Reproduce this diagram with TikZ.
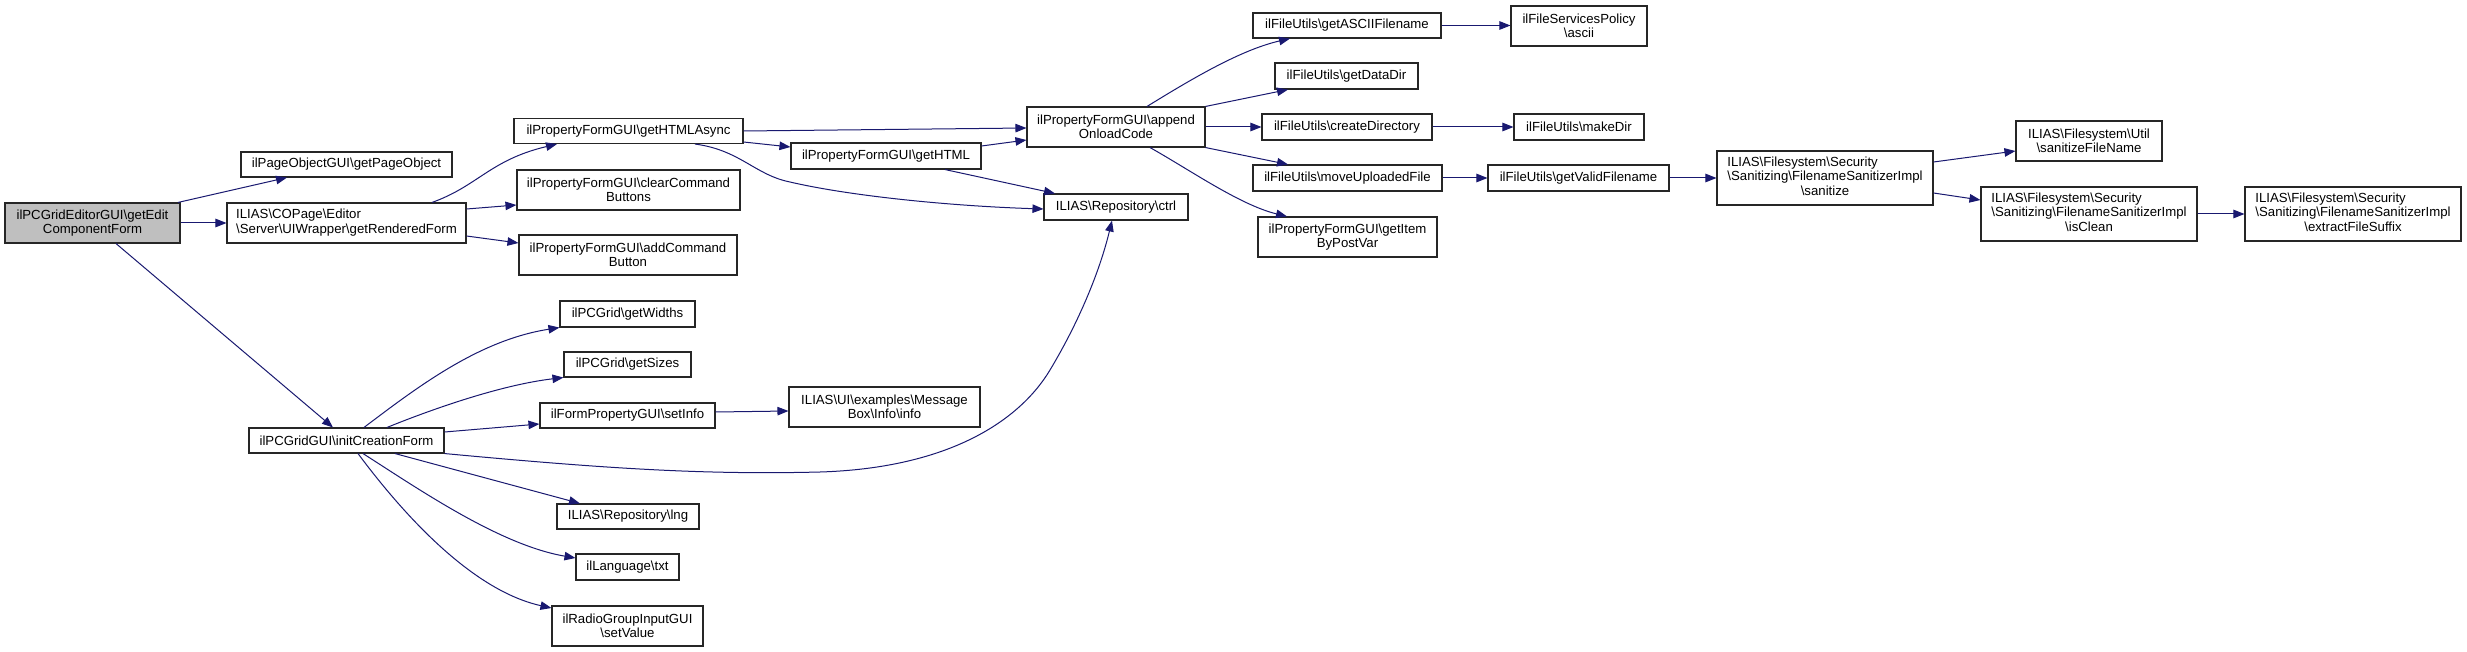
\documentclass[tikz,border=0pt]{standalone}
\usepackage{fontspec}
\setmainfont{Liberation Sans}
\usetikzlibrary{arrows.meta}
\definecolor{edgeblue}{HTML}{191970}
\definecolor{rootgray}{HTML}{BFBFBF}
\newcommand\BSL{\textbackslash}
\tikzset{
  box/.style={draw=black!85, line width=1.1pt, fill=white, inner sep=0pt, align=center,
    font=\fontsize{13.2}{14.3}\selectfont},
  rootbox/.style={box, fill=rootgray},
  call/.style={draw=edgeblue, line width=1pt, -{Triangle[length=11pt,width=8.5pt]}},
}
\begin{document}
\begin{tikzpicture}[x=1pt,y=-1pt]
\fill[white] (0,0) rectangle (2467,652);
\useasboundingbox (0,0) rectangle (2467,652);

% column 1
\node[rootbox, minimum width=175pt, minimum height=40pt] (root) at (92.5,223) {ilPCGridEditorGUI\BSL getEdit\\ComponentForm};
% column 2
\node[box, minimum width=211pt, minimum height=25pt] (pageobj) at (346.5,164.5) {ilPageObjectGUI\BSL getPageObject};
\node[box, minimum width=239pt, minimum height=40pt] (rendered) at (346.5,223) {\begin{tabular}{@{}l@{}}ILIAS\BSL COPage\BSL Editor\\\BSL Server\BSL UIWrapper\BSL getRenderedForm\end{tabular}};
\node[box, minimum width=195pt, minimum height=25pt] (init) at (346.5,440.5) {ilPCGridGUI\BSL initCreationForm};
% column 3
\node[box, minimum width=229pt, minimum height=25pt] (async) at (628.5,131) {ilPropertyFormGUI\BSL getHTMLAsync};
\node[box, minimum width=223pt, minimum height=40pt] (clear) at (628.5,190) {ilPropertyFormGUI\BSL clearCommand\\Buttons};
\node[box, minimum width=218pt, minimum height=40pt] (addcmd) at (628,255) {ilPropertyFormGUI\BSL addCommand\\Button};
\node[box, minimum width=135pt, minimum height=26pt] (widths) at (627.5,314) {ilPCGrid\BSL getWidths};
\node[box, minimum width=127pt, minimum height=25pt] (sizes) at (627.5,364.5) {ilPCGrid\BSL getSizes};
\node[box, minimum width=175pt, minimum height=25pt] (setinfo) at (627.5,415.5) {ilFormPropertyGUI\BSL setInfo};
\node[box, minimum width=142pt, minimum height=25pt] (lng) at (628,516.5) {ILIAS\BSL Repository\BSL lng};
\node[box, minimum width=103pt, minimum height=26pt] (txt) at (627.5,567) {ilLanguage\BSL txt};
\node[box, minimum width=151pt, minimum height=40pt] (setvalue) at (627.5,626) {ilRadioGroupInputGUI\\\BSL setValue};
% column 4
\node[box, minimum width=190pt, minimum height=26pt] (gethtml) at (886,156) {ilPropertyFormGUI\BSL getHTML};
\node[box, minimum width=191pt, minimum height=40pt] (msgbox) at (884.5,407) {ILIAS\BSL UI\BSL examples\BSL Message\\Box\BSL Info\BSL info};
% column 5
\node[box, minimum width=178pt, minimum height=40pt] (append) at (1116,127) {ilPropertyFormGUI\BSL append\\OnloadCode};
\node[box, minimum width=144pt, minimum height=26pt] (ctrl) at (1116,207) {ILIAS\BSL Repository\BSL ctrl};
% column 6
\node[box, minimum width=188pt, minimum height=25pt] (ascfn) at (1347,25.5) {ilFileUtils\BSL getASCIIFilename};
\node[box, minimum width=143pt, minimum height=26pt] (datadir) at (1346.5,76) {ilFileUtils\BSL getDataDir};
\node[box, minimum width=170pt, minimum height=26pt] (createdir) at (1347,127) {ilFileUtils\BSL createDirectory};
\node[box, minimum width=189pt, minimum height=26pt] (moveup) at (1347.5,178) {ilFileUtils\BSL moveUploadedFile};
\node[box, minimum width=179pt, minimum height=40pt] (itembpv) at (1347.5,237) {ilPropertyFormGUI\BSL getItem\\ByPostVar};
% column 7
\node[box, minimum width=136pt, minimum height=40pt] (ascii) at (1579,26) {ilFileServicesPolicy\\\BSL ascii};
\node[box, minimum width=130pt, minimum height=26pt] (makedir) at (1579,127) {ilFileUtils\BSL makeDir};
\node[box, minimum width=181pt, minimum height=26pt] (validfn) at (1578.5,178) {ilFileUtils\BSL getValidFilename};
% column 8
\node[box, minimum width=216pt, minimum height=54pt] (sanitize) at (1825,178) {\begin{tabular}{@{}l@{}}ILIAS\BSL Filesystem\BSL Security\\\BSL Sanitizing\BSL FilenameSanitizerImpl\\\multicolumn{1}{@{}c@{}}{\BSL sanitize}\end{tabular}};
% column 9
\node[box, minimum width=146pt, minimum height=40pt] (sanfn) at (2089,141) {ILIAS\BSL Filesystem\BSL Util\\\BSL sanitizeFileName};
\node[box, minimum width=216pt, minimum height=54pt] (isclean) at (2089,214) {\begin{tabular}{@{}l@{}}ILIAS\BSL Filesystem\BSL Security\\\BSL Sanitizing\BSL FilenameSanitizerImpl\\\multicolumn{1}{@{}c@{}}{\BSL isClean}\end{tabular}};
% column 10
\node[box, minimum width=216pt, minimum height=54pt] (suffix) at (2353,214) {\begin{tabular}{@{}l@{}}ILIAS\BSL Filesystem\BSL Security\\\BSL Sanitizing\BSL FilenameSanitizerImpl\\\multicolumn{1}{@{}c@{}}{\BSL extractFileSuffix}\end{tabular}};

% edges from root
\draw[call] ([xshift=85.5pt]root.north) -- ([xshift=-59.5pt]pageobj.south);
\draw[call] (root.east) -- (rendered.west);
\draw[call] ([xshift=23.5pt]root.south) -- ([xshift=-13.5pt]init.north);
% edges from getRenderedForm
\draw[call] ([xshift=85.5pt]rendered.north) .. controls (478,186) and (490,160) .. ([xshift=-71.5pt]async.south);
\draw[call] ([yshift=14pt]rendered.east) -- ([yshift=-15pt]clear.west);
\draw[call] ([yshift=-13pt]rendered.east) -- ([yshift=12pt]addcmd.west);
% edges from getHTMLAsync
\draw[call] (async.east) -- ([yshift=-1pt]append.west);
\draw[call] ([yshift=-11pt]async.east) -- ([yshift=9pt]gethtml.west);
\draw[call] ([xshift=66.5pt]async.south) .. controls (740,150) and (755,175) .. (790,182)
  .. controls (850,196) and (950,206) .. ([yshift=-2pt]ctrl.west);
% edges from getHTML
\draw[call] ([yshift=10pt]gethtml.east) -- ([yshift=-13pt]append.west);
\draw[call] ([xshift=59pt]gethtml.south) -- ([xshift=-61pt]ctrl.north);
% edges from initCreationForm
\draw[call] ([xshift=17.5pt]init.north) .. controls (420,385) and (480,340) .. (widths.south west);
\draw[call] ([xshift=40.5pt]init.north) .. controls (430,410) and (500,385) .. (sizes.south west);
\draw[call] ([yshift=8.5pt]init.east) -- ([yshift=-8.5pt]setinfo.west);
\draw[call] (init.south east) .. controls (600,468) and (700,475) .. (820,472)
  .. controls (950,468) and (1020,420) .. (1050,370)
  .. controls (1080,320) and (1100,270) .. ([xshift=-4pt]ctrl.south);
\draw[call] ([xshift=48.5pt]init.south) -- ([xshift=-48pt]lng.north);
\draw[call] ([xshift=16.5pt]init.south) .. controls (420,490) and (500,545) .. ([yshift=9pt]txt.west);
\draw[call] ([xshift=11.5pt]init.south) .. controls (400,510) and (470,590) .. ([yshift=18pt]setvalue.west);
\draw[call] ([yshift=3.5pt]setinfo.east) -- ([yshift=-4pt]msgbox.west);
% edges from appendOnloadCode
\draw[call] ([xshift=31pt]append.north) .. controls (1190,80) and (1240,50) .. ([xshift=-57pt]ascfn.south);
\draw[call] (append.north east) -- ([xshift=-58.5pt]datadir.south);
\draw[call] (append.east) -- (createdir.west);
\draw[call] (append.south east) -- ([xshift=-59.5pt]moveup.north);
\draw[call] ([xshift=34pt]append.south) .. controls (1190,170) and (1240,205) .. ([xshift=-60.5pt]itembpv.north);
% file utils chain
\draw[call] (ascfn.east) -- (ascfn.east -| ascii.west);
\draw[call] (createdir.east) -- (makedir.west);
\draw[call] (moveup.east) -- (validfn.west);
\draw[call] (validfn.east) -- (sanitize.west);
\draw[call] ([yshift=16pt]sanitize.east) -- ([yshift=-10pt]sanfn.west);
\draw[call] ([yshift=-15pt]sanitize.east) -- ([yshift=14pt]isclean.west);
\draw[call] (isclean.east) -- (suffix.west);
\end{tikzpicture}
\end{document}
